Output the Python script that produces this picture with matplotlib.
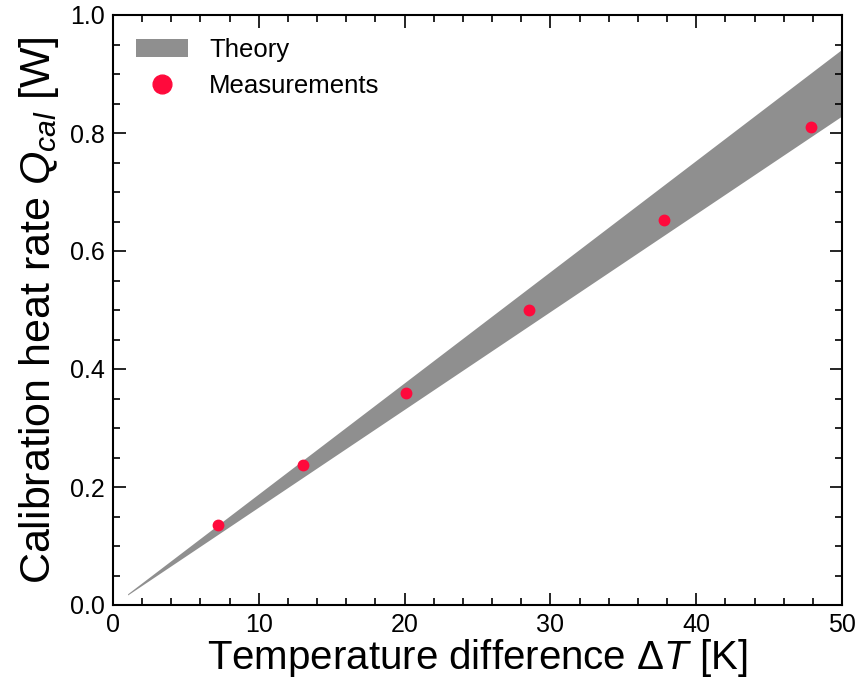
import numpy as np
import matplotlib.pyplot as plt
from matplotlib.ticker import MultipleLocator

plt.rcParams['font.family'] = ['Liberation Sans', 'DejaVu Sans']
plt.rcParams['mathtext.fontset'] = 'custom'
plt.rcParams['mathtext.rm'] = 'Liberation Sans'
plt.rcParams['mathtext.it'] = 'Liberation Sans:italic'

# theory band (lower / upper bound)
band_dT = [1.0, 50.0]
band_low = [0.017, 0.829]
band_high = [0.019, 0.942]

# measured points
meas_dT = [7.2, 13.0, 20.1, 28.5, 37.8, 47.9]
meas_Q = [0.135, 0.237, 0.360, 0.500, 0.652, 0.810]

fig = plt.figure(figsize=(8.59, 6.85), dpi=100)
ax = fig.add_axes([113/859, 1 - 605/685, 729/859, 590/685])

ax.fill_between(band_dT, band_low, band_high, color='#8f8f8f', lw=0, label='Theory')
ax.plot(meas_dT, meas_Q, 'o', color='#ff0a3c', ms=7.5, label='Measurements')

ax.set_xlim(0, 50)
ax.set_ylim(0, 1.0)
ax.xaxis.set_major_locator(MultipleLocator(10))
ax.xaxis.set_minor_locator(MultipleLocator(2))
ax.yaxis.set_major_locator(MultipleLocator(0.2))
ax.yaxis.set_minor_locator(MultipleLocator(0.05))
ax.yaxis.set_major_formatter(plt.FuncFormatter(lambda v, p: f'{v:.1f}'))
ax.tick_params(which='both', direction='in', top=True, right=True, labelsize=18, width=1.2)
ax.tick_params(which='major', length=9, pad=6)
ax.tick_params(which='minor', length=5)
for s in ax.spines.values():
    s.set_linewidth(1.5)

ax.set_xlabel(r'Temperature difference $\Delta T$ [K]', fontsize=29, labelpad=0)
ax.set_ylabel(r'Calibration heat rate $Q_{cal}$ [W]', fontsize=31, labelpad=6)

leg = ax.legend(loc='upper left', frameon=False, fontsize=18.5, markerscale=1.8,
                handlelength=2.0, handleheight=0.7, borderaxespad=0.5, borderpad=0.4,
                labelspacing=0.45, handletextpad=0.85)

fig.savefig('out.png', dpi=100)
